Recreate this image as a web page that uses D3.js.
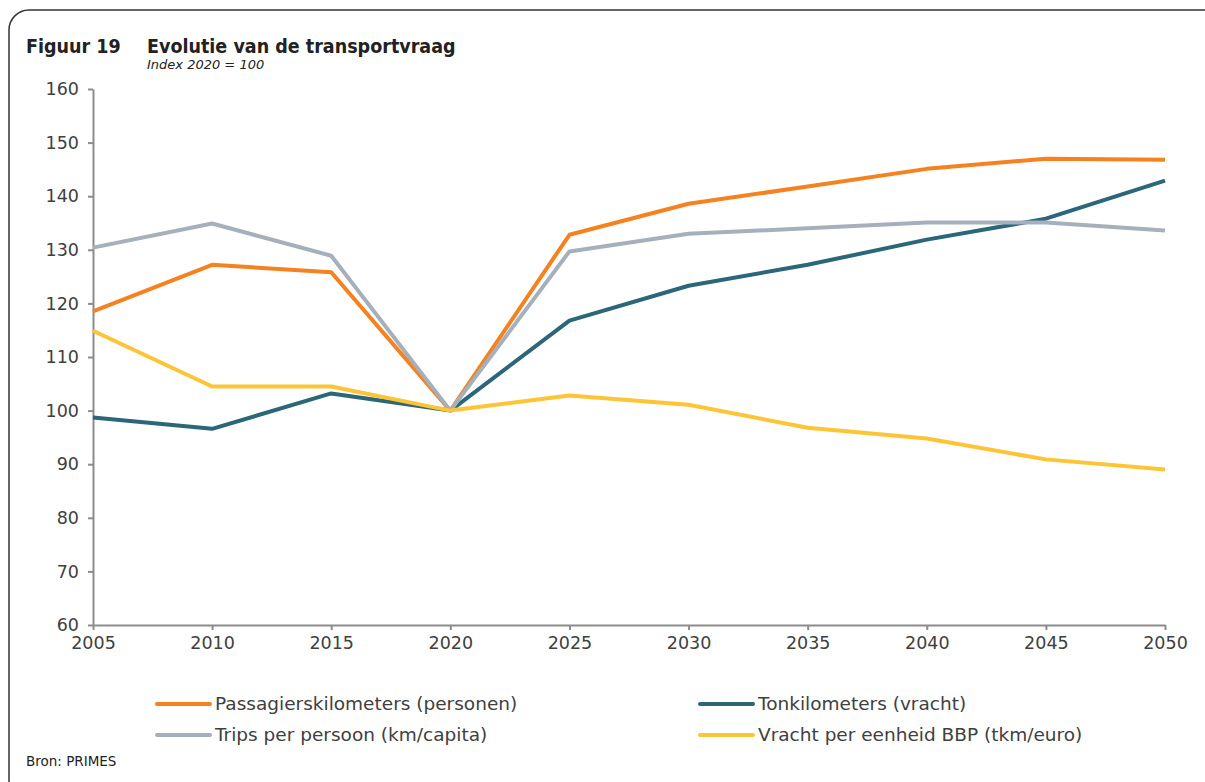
<!DOCTYPE html>
<html>
<head>
<meta charset="utf-8">
<script src="https://cdn.jsdelivr.net/npm/d3@7"></script>
<style>
  body { margin: 0; background: #fff; }
  svg text { font-family: "DejaVu Sans", sans-serif; fill: #404040; }
</style>
</head>
<body>
<svg id="chart" width="1205" height="782"></svg>
<script>
// years on the x axis
let years = [2005, 2010, 2015, 2020, 2025, 2030, 2035, 2040, 2045, 2050];

// index 2020 = 100
let passagiers = [118.5, 127.2, 125.8, 100, 132.8, 138.6, 141.8, 145.1, 147.0, 146.8];
let tonkm = [98.7, 96.6, 103.2, 100, 116.8, 123.3, 127.2, 131.9, 135.8, 142.9];
let trips = [130.4, 134.9, 128.9, 100, 129.7, 133.0, 134.0, 135.1, 135.1, 133.6];
let vracht = [114.9, 104.5, 104.5, 100, 102.8, 101.1, 96.8, 94.8, 90.9, 89.0];

let yTicks = [60, 70, 80, 90, 100, 110, 120, 130, 140, 150, 160];

let series = [
    { name: "Passagierskilometers (personen)", values: passagiers, color: "#f58220" },
    { name: "Tonkilometers (vracht)", values: tonkm, color: "#2b6679" },
    { name: "Trips per persoon (km/capita)", values: trips, color: "#a6b0bd" },
    { name: "Vracht per eenheid BBP (tkm/euro)", values: vracht, color: "#fdc436" }
];

let svg = d3.select("#chart");

// frame with rounded corners (right and bottom run off the page)
svg.append("rect")
    .attr("x", 9)
    .attr("y", 10)
    .attr("width", 1230)
    .attr("height", 790)
    .attr("rx", 20)
    .attr("fill", "none")
    .attr("stroke", "#333")
    .attr("stroke-width", 1.5);

// titles
svg.append("text")
    .attr("x", 26).attr("y", 53)
    .style("font-family", "'DejaVu Sans Condensed', sans-serif")
    .style("font-weight", "bold").style("font-size", "19.5px").style("fill", "#222")
    .text("Figuur 19");
svg.append("text")
    .attr("x", 147).attr("y", 53)
    .style("font-family", "'DejaVu Sans Condensed', sans-serif")
    .style("font-weight", "bold").style("font-size", "19.5px").style("fill", "#222")
    .text("Evolutie van de transportvraag");
svg.append("text")
    .attr("x", 147).attr("y", 69)
    .style("font-style", "italic").style("font-size", "13px").style("fill", "#222")
    .text("Index 2020 = 100");

let x = d3.scaleLinear()
    .domain([2005, 2050])
    .range([93, 1165]);

let y = d3.scaleLinear()
    .domain([60, 160])
    .range([625, 89]);

// axes
let xAxis = svg.append("g")
    .attr("transform", "translate(0," + y(60) + ")")
    .call(d3.axisBottom(x).tickValues(years).tickFormat(d3.format("d")).tickSize(5).tickSizeOuter(0));

let yAxis = svg.append("g")
    .attr("transform", "translate(" + x(2005) + ",0)")
    .call(d3.axisLeft(y).tickValues(yTicks).tickSize(5).tickSizeOuter(0));

[xAxis, yAxis].forEach(function(a) {
    a.select(".domain").attr("stroke", "#8c8c8c").attr("stroke-width", 2);
    a.selectAll(".tick line").attr("stroke", "#8c8c8c").attr("stroke-width", 2);
    a.selectAll(".tick text")
        .style("font-size", "17.5px")
        .style("fill", "#404040")
        .style("font-family", "'DejaVu Sans', sans-serif");
});
xAxis.selectAll(".tick text").attr("y", 12);
yAxis.selectAll(".tick text").attr("x", -14).attr("dy", "0.32em");

// lines
let line = d3.line()
    .x(function(d, i) { return x(years[i]); })
    .y(function(d) { return y(d); });

svg.append("g")
    .selectAll("path")
    .data(series)
    .enter()
    .append("path")
    .attr("d", function(d) { return line(d.values); })
    .attr("fill", "none")
    .attr("stroke", function(d) { return d.color; })
    .attr("stroke-width", 4)
    .attr("stroke-linejoin", "round");

// legend
let legendPos = [[157, 704], [700, 704], [157, 735], [700, 735]];

let legend = svg.append("g")
    .selectAll("g")
    .data(series)
    .enter()
    .append("g")
    .attr("transform", function(d, i) { return "translate(" + legendPos[i][0] + "," + legendPos[i][1] + ")"; });

legend.append("line")
    .attr("x1", 0).attr("x2", 53)
    .attr("stroke", function(d) { return d.color; })
    .attr("stroke-width", 4)
    .attr("stroke-linecap", "round");

legend.append("text")
    .attr("x", 58)
    .attr("dy", "0.35em")
    .style("font-size", "18.5px")
    .text(function(d) { return d.name; });

// source
svg.append("text")
    .attr("x", 26).attr("y", 766)
    .style("font-size", "13.5px").style("fill", "#222")
    .text("Bron: PRIMES");
</script>
</body>
</html>
